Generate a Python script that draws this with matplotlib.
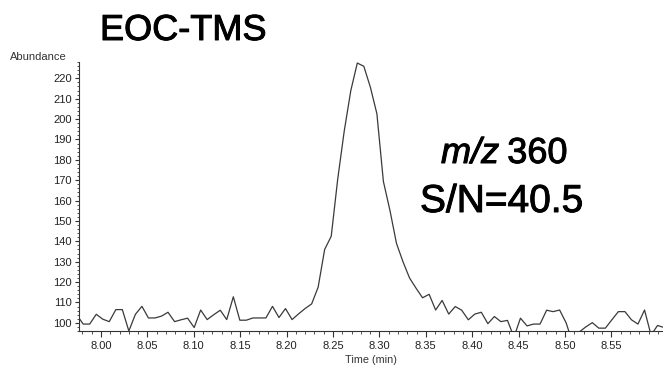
import matplotlib
matplotlib.use("Agg")
import matplotlib.pyplot as plt
import matplotlib.patheffects as pe
from matplotlib.ticker import MultipleLocator, FixedLocator, FormatStrFormatter

plt.rcParams['font.family'] = ['Liberation Sans', 'DejaVu Sans']

# Retention time (min)
times = [7.9738, 7.9808, 7.9878, 7.9949, 8.0019, 8.0089, 8.0160, 8.0230, 8.0300, 8.0371,
         8.0441, 8.0511, 8.0582, 8.0652, 8.0722, 8.0793, 8.0863, 8.0933, 8.1004, 8.1074,
         8.1144, 8.1215, 8.1285, 8.1355, 8.1426, 8.1496, 8.1566, 8.1637, 8.1707, 8.1777,
         8.1848, 8.1918, 8.1988, 8.2059, 8.2129, 8.2199, 8.2270, 8.2340, 8.2410, 8.2481,
         8.2551, 8.2621, 8.2692, 8.2762, 8.2832, 8.2903, 8.2973, 8.3043, 8.3114, 8.3184,
         8.3254, 8.3325, 8.3395, 8.3465, 8.3536, 8.3606, 8.3676, 8.3747, 8.3817, 8.3887,
         8.3958, 8.4028, 8.4098, 8.4169, 8.4239, 8.4309, 8.4380, 8.4450, 8.4520, 8.4591,
         8.4661, 8.4731, 8.4802, 8.4872, 8.4942, 8.5013, 8.5083, 8.5153, 8.5224, 8.5294,
         8.5364, 8.5435, 8.5505, 8.5575, 8.5646, 8.5716, 8.5786, 8.5857, 8.5927, 8.5997,
         8.6068]

# Abundance
abundance = [104, 99.4, 99.4, 104.2, 101.8, 100.6, 106.5, 106.5, 96, 104.2,
             108.1, 102.4, 102.4, 103.3, 105.2, 100.6, 101.5, 102.3, 97.7, 106.3,
             101.6, 104, 106.2, 101.6, 112.8, 101.3, 101.3, 102.4, 102.4, 102.4,
             108.1, 102.6, 107, 101.6, 104.4, 107, 109.3, 117.5, 136, 142.5,
             170.6, 194.1, 214, 227.5, 225.9, 215.6, 202.6, 169.4, 155.1, 139,
             130, 122, 117, 112.3, 114, 106.3, 111, 104.3, 108, 106.2,
             101.5, 104.3, 105.2, 99.6, 103.1, 100.6, 101.2, 93, 102.3, 98.5,
             99.4, 99.4, 106.2, 105.5, 106.3, 99.9, 90, 95.5, 98, 100.1,
             97.4, 97.4, 101.5, 105.5, 105.5, 101.5, 99.4, 106.3, 94, 98.7,
             97.7]

x_ticks = [8.00, 8.05, 8.10, 8.15, 8.20, 8.25, 8.30, 8.35, 8.40, 8.45, 8.50, 8.55]
y_ticks = [100, 110, 120, 130, 140, 150, 160, 170, 180, 190, 200, 210, 220]

title = "EOC-TMS"
ion_label = "m/z"
ion_value = "360"
sn_label = "S/N=40.5"

W, H = 663, 366
fig = plt.figure(figsize=(W / 100, H / 100), dpi=100)
ax = fig.add_axes([79 / W, 35 / H, (W - 79) / W, (331 - 62) / H])

ax.plot(times, abundance, color='#3a3a3a', linewidth=0.9)

ax.set_xlim(7.9763, 8.6056)
ax.set_ylim(96, 228)

ax.xaxis.set_major_locator(FixedLocator(x_ticks))
ax.xaxis.set_minor_locator(MultipleLocator(0.01))
ax.xaxis.set_major_formatter(FormatStrFormatter('%.2f'))
ax.yaxis.set_major_locator(FixedLocator(y_ticks))
ax.yaxis.set_minor_locator(MultipleLocator(2))

for s in ['top', 'right']:
    ax.spines[s].set_visible(False)
for s in ['left', 'bottom']:
    ax.spines[s].set_color('#333333')
    ax.spines[s].set_linewidth(0.8)

ax.tick_params(axis='x', which='major', direction='out', length=4, width=0.8,
               colors='#333333', labelsize=8, pad=3, labelcolor='#222222')
ax.tick_params(axis='x', which='minor', direction='out', length=2.2, width=0.6, colors='#333333')
ax.tick_params(axis='y', which='major', direction='out', length=3, width=0.8,
               colors='#333333', labelsize=8, pad=2, labelcolor='#222222')
ax.tick_params(axis='y', which='minor', direction='out', length=1.5, width=0.6, colors='#333333')

ax.set_xlabel("Time (min)", fontsize=7.8, color='#333333', labelpad=3)

thick = [pe.withStroke(linewidth=0.7, foreground='black')]

fig.text(10 / W, 1 - 57 / H, "Abundance", fontsize=8, color='#333333', va='center', ha='left')
fig.text(100 / W, 1 - 40 / H, title, fontsize=26, color='black', va='baseline', ha='left',
         path_effects=thick)

t1 = fig.text(441 / W, 1 - 163 / H, ion_label, fontsize=26, style='italic', color='black',
              va='baseline', ha='left', path_effects=thick)
renderer = fig.canvas.get_renderer()
bb = t1.get_window_extent(renderer=renderer)
fig.text((bb.x1 + 8) / W, 1 - 163 / H, ion_value, fontsize=26, color='black',
         va='baseline', ha='left', path_effects=thick)
fig.text(420 / W, 1 - 212 / H, sn_label, fontsize=28, color='black', va='baseline', ha='left',
         path_effects=thick)

fig.savefig("out.png", dpi=100)
